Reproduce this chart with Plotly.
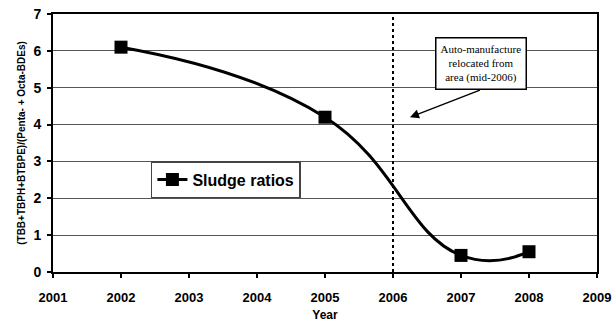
import plotly.graph_objects as go

# Sludge ratio measurements by year
years = [2002, 2005, 2007, 2008]
ratios = [6.1, 4.2, 0.45, 0.55]

x_ticks = [2001, 2002, 2003, 2004, 2005, 2006, 2007, 2008, 2009]
y_ticks = [0, 1, 2, 3, 4, 5, 6, 7]
relocation_year = 2006

fig = go.Figure()

fig.add_trace(go.Scatter(
    x=years, y=ratios, mode="lines+markers", name="Sludge ratios",
    line=dict(color="black", width=3, shape="spline", smoothing=1.3),
    marker=dict(symbol="square", size=13, color="black"),
))

# Dotted vertical marker for the relocation year
fig.add_shape(type="line", x0=relocation_year, x1=relocation_year, y0=0, y1=7,
              xref="x", yref="y", line=dict(color="black", width=2, dash="dot"))

# Annotation box with arrow
fig.add_annotation(
    x=2006.25, y=4.2, xref="x", yref="y",
    ax=2007.3, ay=4.95, axref="x", ayref="y",
    text="", showarrow=True, arrowhead=2, arrowsize=1.2, arrowwidth=1.5,
    arrowcolor="black",
)
fig.add_annotation(
    x=2007.3, y=5.65, xref="x", yref="y",
    text="Auto-manufacture<br>relocated from<br>area (mid-2006)",
    showarrow=False, font=dict(family="Liberation Serif", size=11, color="black"),
    bgcolor="white", bordercolor="black", borderwidth=1.5, borderpad=4,
)

fig.update_layout(
    width=613, height=322,
    margin=dict(l=53, r=16, t=14, b=50),
    paper_bgcolor="white", plot_bgcolor="white",
    font=dict(family="Liberation Sans", color="black"),
    showlegend=True,
    legend=dict(x=0.18, y=0.43, xanchor="left", yanchor="top",
                bordercolor="#444", borderwidth=1.5, bgcolor="white",
                font=dict(size=16, family="Liberation Sans", weight="bold"),
                itemwidth=30, tracegroupgap=0),
    xaxis=dict(range=[2001, 2009], tickvals=x_ticks, showgrid=False,
               ticks="outside", ticklen=4, tickwidth=1.5, tickcolor="black",
               showline=True, linecolor="black", linewidth=2, mirror=True,
               zeroline=False, ticklabelstandoff=8, automargin=False,
               tickfont=dict(size=13, weight="bold"),
               title=dict(text="Year", font=dict(size=12, weight="bold"), standoff=10)),
    yaxis=dict(range=[0, 7], tickvals=y_ticks, showgrid=True, gridcolor="#555",
               gridwidth=1, ticks="outside", ticklen=4, tickwidth=1.5,
               tickcolor="black", showline=True, linecolor="black", linewidth=2,
               mirror=True, zeroline=False, ticklabelstandoff=3, automargin=False,
               tickfont=dict(size=14, weight="bold"),
               title=dict(text="(TBB+TBPH+BTBPE)/(Penta- + Octa-BDEs)",
                          font=dict(size=10, weight="bold"), standoff=6)),
)

fig.write_html("out.html")
